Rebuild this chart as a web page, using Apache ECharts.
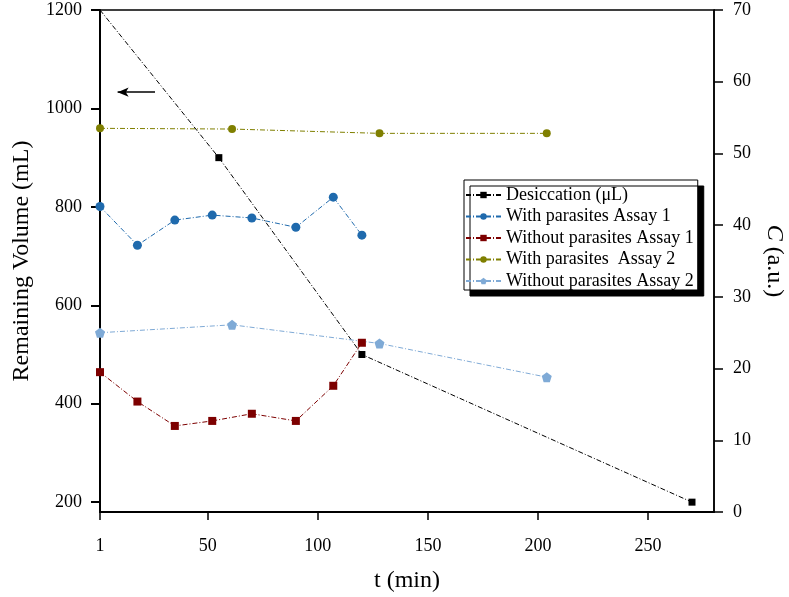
<!DOCTYPE html>
<html>
<head>
<meta charset="utf-8">
<script src="https://cdn.jsdelivr.net/npm/echarts@6/dist/echarts.min.js"></script>
<style>html,body{margin:0;padding:0;background:#fff}#c{width:789px;height:597px}</style>
</head>
<body>
<div id="c"></div>
<script>
// ---- data ----
var xTicks = [1, 50, 100, 150, 200, 250];
var yLeftTicks = [200, 400, 600, 800, 1000, 1200];

var desT = [1, 55, 120, 270];
var desV = [1200, 900, 500, 200];

var wp1T = [1, 18, 35, 52, 70, 90, 107, 120];
var wp1V = [42.6, 37.2, 40.7, 41.4, 41.0, 39.7, 43.9, 38.6];

var wop1T = [1, 18, 35, 52, 70, 90, 107, 120];
var wop1V = [19.5, 15.4, 12.0, 12.7, 13.7, 12.7, 17.6, 23.6];

var wp2T = [1, 61, 128, 204];
var wp2V = [53.5, 53.4, 52.8, 52.8];

var wop2T = [1, 61, 128, 204];
var wop2V = [25.0, 26.1, 23.5, 18.8];

var arrowT = [26, 9];
var arrowV = 1033;

var names = ['Desiccation (\u03bcL)', 'With parasites Assay 1', 'Without parasites Assay 1', 'With parasites  Assay 2', 'Without parasites Assay 2'];

// ---- chart ----
var FONT = '"Liberation Serif", "Times New Roman", serif';
function pairs(t, v) { return t.map(function (x, i) { return [x, v[i]]; }); }
var dash = [5, 2, 1, 2];
var pent = 'path://M0,-1 L0.951,-0.309 L0.588,0.809 L-0.588,0.809 L-0.951,-0.309 Z';

var desData = pairs(desT, desV).map(function (p, i) {
  return i === 0 ? { value: p, symbolSize: 0 } : { value: p };
});

function lineSeries(name, data, color, symbol, size, yIdx) {
  return {
    name: name, type: 'line', data: data, yAxisIndex: yIdx,
    symbol: symbol, symbolSize: size, showSymbol: true,
    lineStyle: { color: color, width: 1, type: dash },
    itemStyle: { color: color },
    animation: false, z: 3
  };
}

var chart = echarts.init(document.getElementById('c'), null, { renderer: 'canvas' });
var des = lineSeries(names[0], desData, '#000000', 'rect', 7, 0);
des.markLine = {
  silent: true, symbol: ['none', 'arrow'], symbolSize: [7, 11],
  label: { show: false },
  lineStyle: { color: '#000', width: 1.5, type: 'solid' },
  data: [[{ coord: [arrowT[0], arrowV] }, { coord: [arrowT[1], arrowV] }]]
};

chart.setOption({
  animation: false,
  backgroundColor: '#fff',
  grid: { left: 100, right: 75, top: 10, bottom: 85, outerBoundsMode: 'none', containLabel: false, show: true, borderColor: '#000', borderWidth: 1.5, backgroundColor: 'transparent' },
  legend: {
    orient: 'vertical', left: 464, top: 180,
    padding: [6, 4, 0, 1],
    itemWidth: 35, itemHeight: 8, itemGap: 3.5,
    backgroundColor: '#fff', borderColor: '#000', borderWidth: 1,
    shadowColor: '#000', shadowBlur: 0, shadowOffsetX: 6, shadowOffsetY: 6,
    textStyle: { fontFamily: FONT, fontSize: 18, color: '#000' },
    data: names
  },
  xAxis: {
    type: 'value', min: 1, max: 280,
    name: 't (min)', nameLocation: 'middle', nameGap: 57,
    nameTextStyle: { fontFamily: FONT, fontSize: 24, color: '#000' },
    axisLine: { show: true, lineStyle: { color: '#000', width: 2 } },
    axisTick: { show: true, length: 8, customValues: xTicks, lineStyle: { color: '#000', width: 1.5 } },
    axisLabel: { customValues: xTicks, fontFamily: FONT, fontSize: 18, color: '#000', margin: 25 },
    splitLine: { show: false }
  },
  yAxis: [{
    type: 'value', min: 180, max: 1200, position: 'left',
    name: 'Remaining Volume (mL)', nameLocation: 'middle', nameGap: 66, nameRotate: 90,
    nameTextStyle: { fontFamily: FONT, fontSize: 24, color: '#000' },
    axisLine: { show: true, lineStyle: { color: '#000', width: 2 } },
    axisTick: { show: true, length: 9, customValues: yLeftTicks, lineStyle: { color: '#000', width: 2 } },
    axisLabel: { customValues: yLeftTicks, formatter: function (v) { return String(v); }, fontFamily: FONT, fontSize: 18, color: '#000', margin: 18 },
    splitLine: { show: false }
  }, {
    type: 'value', min: 0, max: 70, interval: 10, position: 'right',
    name: '{i|C} (a.u.)', nameLocation: 'middle', nameGap: 48, nameRotate: -90,
    nameTextStyle: { fontFamily: FONT, fontSize: 24, color: '#000', rich: { i: { fontFamily: FONT, fontSize: 24, fontStyle: 'italic', color: '#000' } } },
    axisLine: { show: true, lineStyle: { color: '#000', width: 1.5 } },
    axisTick: { show: true, length: 9, lineStyle: { color: '#000', width: 1.5 } },
    axisLabel: { fontFamily: FONT, fontSize: 18, color: '#000', margin: 19 },
    splitLine: { show: false }
  }],
  series: [
    des,
    lineSeries(names[1], pairs(wp1T, wp1V), '#1f6aad', 'circle', 9, 1),
    lineSeries(names[2], pairs(wop1T, wop1V), '#7d0000', 'rect', 8, 1),
    lineSeries(names[3], pairs(wp2T, wp2V), '#7f7f00', 'circle', 8, 1),
    lineSeries(names[4], pairs(wop2T, wop2V), '#7faad6', pent, 10, 1)
  ]
});
</script>
</body>
</html>
